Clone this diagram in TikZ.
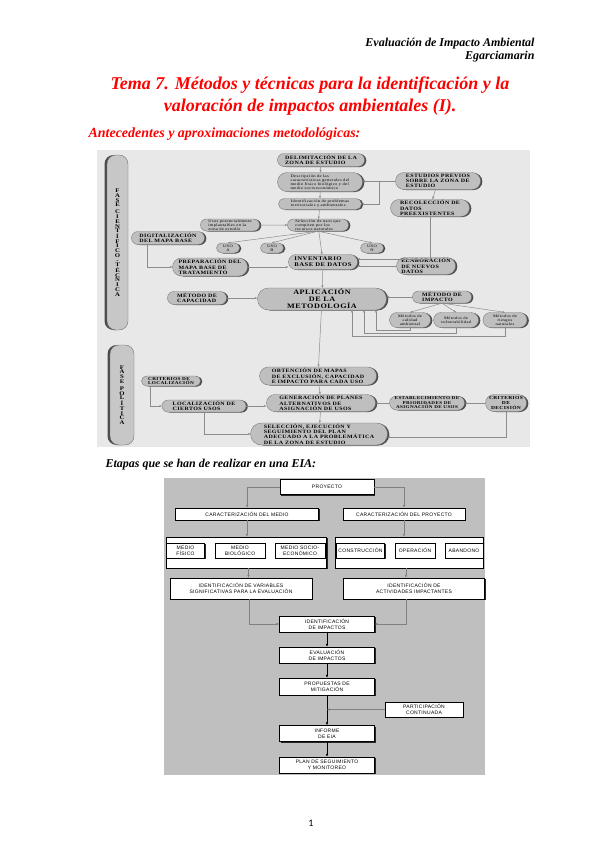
\documentclass[tikz,border=0pt]{standalone}
\usepackage{fontspec}
\setmainfont{Liberation Serif}
\newfontfamily\diagserif[FakeStretch=1.2,LetterSpace=8]{Liberation Serif}
\newfontfamily\diagsans[LetterSpace=6]{Liberation Sans}
\newfontfamily\pagenumfont{Carlito}
\usetikzlibrary{arrows.meta,shapes.misc,shadows,calc}

\newcommand\pillcaps{\diagserif\bfseries\fontsize{5}{5.3}\selectfont}
\newcommand\pilllow{\diagserif\fontsize{3.8}{4.1}\selectfont}
\newcommand\pillbig{\diagserif\bfseries\fontsize{6.8}{7}\selectfont}
\newcommand\eiatxt{\diagsans\fontsize{5}{5.8}\selectfont}

\tikzset{
  wh/.style 2 args={minimum width=#1pt, minimum height=#2pt},
  pill/.style={rounded rectangle, draw=black!55, fill=black!25, line width=0.35pt,
    inner sep=0.5pt, align=left, font=\pillcaps, text=black,
    drop shadow={shadow xshift=1.8pt, shadow yshift=-0.5pt, fill=black!70, opacity=1}},
  pilllc/.style={pill, font=\pilllow},
  vpill/.style={rectangle, rounded corners=9pt, draw=black!55, fill=black!22, align=center,
    font=\diagserif\bfseries\fontsize{5.6}{4.7}\selectfont,
    drop shadow={shadow xshift=-2.5pt, shadow yshift=0pt, fill=black!70, opacity=1}},
  flow/.style={draw=black!45, line width=0.5pt, -{Stealth[length=2.6pt,width=2.2pt]}},
  ebox/.style={draw=black, fill=white, line width=0.5pt, inner sep=0.5pt, align=center,
    font=\eiatxt, drop shadow={shadow xshift=1.2pt, shadow yshift=-1.2pt, fill=black!85, opacity=1}},
  estep/.style={draw=black, line width=0.5pt, -{Latex[length=2.8pt,width=2.4pt]}},
  egray/.style={draw=black!50, line width=0.4pt, -{Latex[length=2.8pt,width=2.4pt]}},
}

\begin{document}
\begin{tikzpicture}[x=1pt,y=-1pt]
  \useasboundingbox (0,0) rectangle (599,848);
  \fill[white] (0,0) rectangle (599,848);

  % cabecera y titulos
  \node[anchor=base east, font=\bfseries\itshape\fontsize{12}{14}\selectfont] (hdr1) at (538,47) {Evaluación de Impacto Ambiental};
  \node[anchor=base east, font=\bfseries\itshape\fontsize{12}{14}\selectfont] (hdr2) at (538,60) {Egarciamarin};
  \node[anchor=base, text=red, font=\bfseries\itshape\fontsize{18}{20}\selectfont] (tit1) at (310,90) {Tema 7. Métodos y técnicas para la identificación y la};
  \node[anchor=base, text=red, font=\bfseries\itshape\fontsize{18}{20}\selectfont] (tit2) at (310,112) {valoración de impactos ambientales (I).};
  \node[anchor=base west, text=red, font=\bfseries\itshape\fontsize{14}{16}\selectfont] (sub1) at (85,138) {Antecedentes y aproximaciones metodológicas:};

  % ---------- esquema 1 ----------
  \fill[black!9] (97,150) rectangle (530,447);
  \node[vpill, wh={21}{175}] (fct) at (117.5,242.5) {F\\A\\S\\E\\[2.5pt]C\\I\\E\\N\\T\\Í\\F\\I\\C\\O\\-\\T\\É\\C\\N\\I\\C\\A};
  \node[vpill, wh={24}{100}] (fpo) at (122,395) {F\\A\\S\\E\\[2.5pt]P\\O\\L\\Í\\T\\I\\C\\A};

  \node[pill, wh={88}{13}] (delim) at (321,160) {DELIMITACIÓN DE LA\\ZONA DE ESTUDIO};
  \node[pilllc, wh={86}{19}] (descr) at (320,182) {Descripción de las\\características generales del\\medio físico biológico y del\\medio socioeconómico};
  \node[pilllc, wh={84}{11}] (identp) at (320,204) {Identificación de problemas\\territoriales y ambientales};
  \node[pilllc, wh={62}{12}] (selec) at (318,225) {Selección de usos que\\compiten por los\\recursos naturales};
  \node[pilllc, wh={60}{12}] (usospot) at (230,225) {Usos potencialmente\\implantables en la\\zona de estudio};
  \node[pill, wh={74}{13}] (digit) at (168,238) {DIGITALIZACIÓN\\DEL MAPA BASE};
  \node[pill, wh={24}{10}, align=center, font=\pilllow] (usoa) at (228,248) {USO\\A};
  \node[pill, wh={24}{10}, align=center, font=\pilllow] (usob) at (272,248) {USO\\B};
  \node[pill, wh={24}{10}, align=center, font=\pilllow] (uson) at (372,248) {USO\\N};
  \node[pill, wh={70}{15}, font=\diagserif\bfseries\fontsize{5.6}{5.8}\selectfont] (invent) at (323,262) {INVENTARIO\\BASE DE DATOS};
  \node[pill, wh={76}{18}] (prep) at (210,267) {PREPARACIÓN DEL\\MAPA BASE DE\\TRATAMIENTO};
  \node[pill, wh={86}{17}] (estud) at (438,181) {ESTUDIOS PREVIOS\\SOBRE LA ZONA DE\\ESTUDIO};
  \node[pill, wh={80}{17}] (recol) at (430,208) {RECOLECCIÓN DE\\DATOS\\PREEXISTENTES};
  \node[pill, wh={60}{17}] (elab) at (426,266) {ELABORACIÓN\\DE NUEVOS\\DATOS};
  \node[pill, wh={130}{22}, align=center, font=\pillbig] (aplic) at (322,299) {APLICACIÓN\\DE LA\\METODOLOGÍA};
  \node[pill, wh={60}{13}] (mcap) at (197,298) {MÉTODO DE\\CAPACIDAD};
  \node[pill, wh={60}{12}] (mimp) at (442,297) {MÉTODO DE\\IMPACTO};
  \node[pilllc, wh={42}{15}, align=center] (mcal) at (410,320) {Métodos de\\calidad\\ambiental};
  \node[pilllc, wh={46}{15}, align=center] (mvul) at (456,320) {Métodos de\\vulnerabilidad};
  \node[pilllc, wh={45}{15}, align=center] (mrie) at (505,320) {Métodos de\\riesgos\\naturales};
  \node[pill, wh={118}{18}] (obten) at (318,376) {OBTENCIÓN DE MAPAS\\DE EXCLUSIÓN, CAPACIDAD\\E IMPACTO PARA CADA USO};
  \node[pill, wh={60}{10}, font=\diagserif\bfseries\fontsize{4.4}{4.6}\selectfont] (critl) at (171,381) {CRITERIOS DE\\LOCALIZACIÓN};
  \node[pill, wh={85}{12}] (local) at (204,406) {LOCALIZACIÓN DE\\CIERTOS USOS};
  \node[pill, wh={110}{17}] (gener) at (321,403) {GENERACIÓN DE PLANES\\ALTERNATIVOS DE\\ASIGNACIÓN DE USOS};
  \node[pill, wh={76}{14}, align=center, font=\diagserif\bfseries\fontsize{4.3}{4.5}\selectfont] (estab) at (427,403) {ESTABLECIMIENTO DE\\PRIORIDADES DE\\ASIGNACIÓN DE USOS};
  \node[pill, wh={42}{17}, align=center, font=\diagserif\bfseries\fontsize{4.6}{5}\selectfont] (critd) at (506,403) {CRITERIOS\\DE\\DECISIÓN};
  \node[pill, wh={138}{22}] (selecc) at (319,434) {SELECCIÓN, EJECUCIÓN Y\\SEGUIMIENTO DEL PLAN\\ADECUADO A LA PROBLEMÁTICA\\DE LA ZONA DE ESTUDIO};

  \draw[flow] (delim) -- (descr);
  \draw[flow] (descr) -- (identp);
  \draw[flow] (identp) -- (selec);
  \draw[flow] (estud.west) -- (estud.west -| descr.east);
  \draw[flow] ($(estud.west)!0.5!(estud.west -| descr.east)$) |- (identp.east);
  \draw[flow] (estud) -- (recol);
  \draw[flow] (recol.south) |- ([yshift=3pt]invent.east);
  \draw[flow] (elab.west) -- (elab.west -| invent.east);
  \draw[flow] (usospot) -- (selec);
  \draw[flow] (selec.south) -- (usoa.north);
  \draw[flow] (selec.south) -- (usob.north);
  \draw[flow] (selec.south) -- (uson.north);
  \draw[flow] (selec) -- (invent);
  \draw[flow] ([xshift=-21pt]digit.south) |- (prep.west);
  \draw[flow] (prep.east) -- (prep.east -| invent.west);
  \draw[flow] (invent) -- (aplic);
  \draw[flow] (mcap.east) -- (mcap.east -| aplic.west);
  \draw[flow] (mimp.west) -- (mimp.west -| aplic.east);
  \draw[flow] (mimp.south) -- (mcal.north);
  \draw[flow] (mimp.south) -- (mvul.north);
  \draw[flow] (mimp.south) -- (mrie.north);
  \draw[flow] (mcal.south) -- ++(0,2.5) -| ([xshift=54pt]aplic.south);
  \draw[flow] (mvul.south) -- ++(0,5.5) -| ([xshift=42pt]aplic.south);
  \draw[flow] (mrie.south) -- ++(0,8.5) -| ([xshift=30pt]aplic.south);
  \draw[flow] (aplic) -- (obten);
  \draw[flow] (obten) -- (gener);
  \draw[flow] (gener) -- (selecc);
  \draw[flow] ([xshift=-21pt]critl.south) |- (local.west);
  \draw[flow] (local.east) -- (local.east -| gener.west);
  \draw[flow] (local.south) |- (selecc.west);
  \draw[flow] (estab.west) -- (estab.west -| gener.east);
  \draw[flow] (critd.west) -- (critd.west -| estab.east);
  \draw[flow] (critd.south) |- ([yshift=-3pt]selecc.east);

  % ---------- esquema 2 ----------
  \node[anchor=base west, font=\bfseries\itshape\fontsize{12}{14}\selectfont] (sub2) at (102,467) {Etapas que se han de realizar en una EIA:};
  \fill[black!25] (164,478) rectangle (485,775);

  \node[ebox, wh={94}{15}] (proy) at (327,487) {PROYECTO};
  \node[ebox, wh={143}{12}] (cmed) at (247,514) {CARACTERIZACIÓN DEL MEDIO};
  \node[ebox, wh={122}{12}] (cpro) at (404,514) {CARACTERIZACIÓN DEL PROYECTO};
  \node[ebox, wh={160}{31}] (contl) at (246.5,552.5) {};
  \node[ebox, wh={148}{31}] (contr) at (409,552.5) {};
  \node[ebox, wh={38}{15}] (mfis) at (185.5,550.5) {MEDIO\\FÍSICO};
  \node[ebox, wh={50}{15}] (mbio) at (240,550.5) {MEDIO\\BIOLÓGICO};
  \node[ebox, wh={50}{15}] (msoc) at (300,550.5) {MEDIO SOCIO-\\ECONÓMICO};
  \node[ebox, wh={48}{15}] (cons) at (360.5,550.5) {CONSTRUCCIÓN};
  \node[ebox, wh={40}{15}] (oper) at (415,550.5) {OPERACIÓN};
  \node[ebox, wh={38}{15}] (aban) at (464,550.5) {ABANDONO};
  \node[ebox, wh={142}{21}] (idv) at (241,588.5) {IDENTIFICACIÓN DE VARIABLES\\SIGNIFICATIVAS PARA LA EVALUACIÓN};
  \node[ebox, wh={141}{21}] (ida) at (414,588.5) {IDENTIFICACIÓN DE\\ACTIVIDADES IMPACTANTES};
  \node[ebox, wh={95}{16}] (idi) at (327,624) {IDENTIFICACIÓN\\DE IMPACTOS};
  \node[ebox, wh={95}{16}] (eva) at (327,655) {EVALUACIÓN\\DE IMPACTOS};
  \node[ebox, wh={95}{17}] (prop) at (327,686.5) {PROPUESTAS DE\\MITIGACIÓN};
  \node[ebox, wh={78}{15}] (part) at (424,709.5) {PARTICIPACIÓN\\CONTINUADA};
  \node[ebox, wh={95}{16}] (inf) at (327,733.5) {INFORME\\DE EIA};
  \node[ebox, wh={95}{16}] (plan) at (327,765) {PLAN DE SEGUIMIENTO\\Y MONITOREO};

  \draw[egray] (proy.west) -| (cmed.north);
  \draw[egray] (proy.east) -| (cpro.north);
  \draw[egray] (cmed.south) -- (cmed.south |- contl.north);
  \draw[egray] (cpro.south) -- (cpro.south |- contr.north);
  \draw[egray] ([xshift=2pt]contl.south) -- ([xshift=2pt]contl.south |- idv.north);
  \draw[egray] ([xshift=-3pt]contr.south) -- ([xshift=-3pt]contr.south |- ida.north);
  \draw[egray] ([xshift=8pt]idv.south) |- (idi.west);
  \draw[egray] ([xshift=-8pt]ida.south) |- (idi.east);
  \draw[estep] (idi) -- (eva);
  \draw[estep] (eva) -- (prop);
  \draw[estep] (prop) -- (inf);
  \draw[estep] (inf) -- (plan);
  \draw[egray] (part.west) -- (part.west -| inf.north);

  \node[anchor=base, font=\pagenumfont\fontsize{10}{12}\selectfont] (pnum) at (311,826) {1};
\end{tikzpicture}
\end{document}
